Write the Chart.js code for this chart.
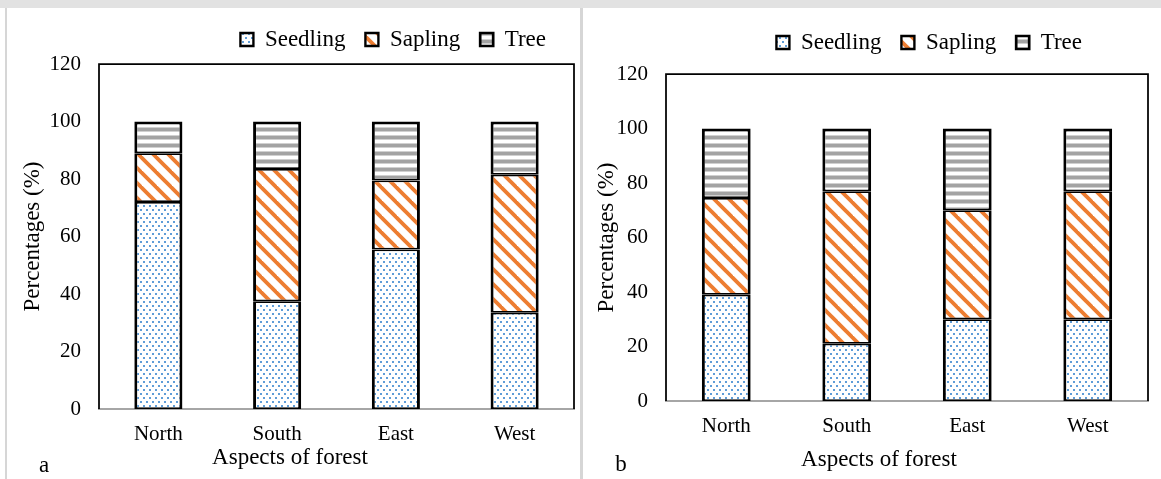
<!DOCTYPE html>
<html>
<head>
<meta charset="utf-8">
<title>Regeneration by forest aspect</title>
<script src="https://cdn.jsdelivr.net/npm/chart.js@4.4.0/dist/chart.umd.min.js"></script>
<style>
  html, body { margin: 0; padding: 0; background: #fff; }
  body { position: relative; width: 1161px; height: 479px; overflow: hidden; }
  .band { position: absolute; left: 0; top: 0; width: 1161px; height: 8px; background: #e2e2e2; }
  .rule { position: absolute; top: 8px; height: 471px; background: #d6d6d6; }
  .panel { position: absolute; top: 8px; }
  canvas { display: block; }
</style>
</head>
<body>
<div class="band"></div>
<div class="rule" style="left:5px;width:2px"></div>
<div class="rule" style="left:580px;width:3px"></div>
<div class="panel" style="left:7px"><canvas id="chartA" width="573" height="471"></canvas></div>
<div class="panel" style="left:583px"><canvas id="chartB" width="578" height="471"></canvas></div>
<script>
// Share (%) of seedlings, saplings and trees on each aspect, two sites (a, b)
const aspects = ['North', 'South', 'East', 'West'];

const seedlingA = [72, 37.5, 55.5, 33.5];
const saplingA = [17, 46, 24, 48];
const treeA = [11, 16.5, 20.5, 18.5];

const seedlingB = [39, 21, 30, 30];
const saplingB = [35.5, 56, 40, 47];
const treeB = [25.5, 23, 30, 23];

const yMax = 120;
const yStep = 20;

const serif = "'Liberation Serif', 'Times New Roman', serif";

// small repeating fills, like the Excel pattern fills
function tile(w, h, paint) {
  const c = document.createElement('canvas');
  c.width = w;
  c.height = h;
  const g = c.getContext('2d');
  paint(g);
  return g.createPattern(c, 'repeat');
}

const dots = tile(6, 8, g => {
  g.fillStyle = '#fff';
  g.fillRect(0, 0, 6, 8);
  g.fillStyle = '#5f9dd8';
  g.fillRect(1, 1, 2, 2);
  g.fillRect(4, 5, 2, 2);
});

const stripes = tile(15, 15, g => {
  g.fillStyle = '#fff';
  g.fillRect(0, 0, 15, 15);
  g.strokeStyle = '#ed7d31';
  g.lineWidth = 3.8;
  for (const d of [-15, 0, 15]) {
    g.beginPath();
    g.moveTo(d - 3, -3);
    g.lineTo(d + 18, 18);
    g.stroke();
  }
});

const bands = tile(8, 8, g => {
  g.fillStyle = '#fff';
  g.fillRect(0, 0, 8, 8);
  g.fillStyle = '#a3a3a3';
  g.fillRect(0, 0, 8, 3);
  g.fillStyle = '#d0d0d0';
  g.fillRect(0, 3, 8, 1);
  g.fillRect(0, 7, 8, 1);
});

function datasets(seedling, sapling, tree) {
  const edge = { top: 1.75, bottom: 1.75, left: 3, right: 3 };
  return [
    { label: 'Seedling', data: seedling, backgroundColor: dots, borderWidth: edge },
    { label: 'Sapling', data: sapling, backgroundColor: stripes, borderWidth: edge },
    { label: 'Tree', data: tree, backgroundColor: bands, borderWidth: { ...edge, top: 3 } }
  ].map(ds => Object.assign(ds, {
    borderColor: '#000',
    borderSkipped: false,
    barPercentage: 0.405,
    categoryPercentage: 1
  }));
}

// nudge the legend row sideways / up
const shiftLegend = {
  id: 'shiftLegend',
  afterLayout(chart, args, opts) {
    const lg = chart.legend;
    lg.left += opts.dx;
    lg.right += opts.dx;
    lg.top += opts.dy;
    lg.bottom += opts.dy;
  }
};

// black box on left, top and right of the plot
const frame = {
  id: 'frame',
  beforeDatasetsDraw(chart) {
    const { ctx, chartArea: { left, top, right, bottom } } = chart;
    ctx.save();
    ctx.strokeStyle = '#000';
    ctx.lineWidth = 1.75;
    ctx.beginPath();
    ctx.moveTo(left, bottom);
    ctx.lineTo(left, top);
    ctx.lineTo(right, top);
    ctx.lineTo(right, bottom);
    ctx.stroke();
    ctx.restore();
  }
};

// x axis caption and the panel letter
const captions = {
  id: 'captions',
  afterDraw(chart, args, opts) {
    const ctx = chart.ctx;
    ctx.save();
    ctx.fillStyle = '#000';
    ctx.font = '23px ' + serif;
    ctx.textAlign = 'center';
    ctx.textBaseline = 'alphabetic';
    ctx.fillText(opts.title, opts.titleX, opts.titleY);
    ctx.fillText(opts.letter, opts.letterX, opts.letterY);
    ctx.restore();
  }
};

function drawPanel(id, seedling, sapling, tree, look) {
  return new Chart(document.getElementById(id), {
    type: 'bar',
    data: { labels: aspects, datasets: datasets(seedling, sapling, tree) },
    options: {
      responsive: false,
      animation: false,
      devicePixelRatio: 1,
      layout: { padding: { top: look.padTop, right: look.padRight, left: 0, bottom: 0 } },
      scales: {
        x: {
          stacked: true,
          grid: { display: false, drawTicks: false },
          border: { color: '#a6a6a6', width: 2 },
          ticks: { color: '#000', font: { family: serif, size: 21 }, padding: 13 },
          afterFit: s => { s.height = look.xHeight; }
        },
        y: {
          stacked: true,
          min: 0,
          max: yMax,
          grid: { display: false, drawTicks: false },
          border: { display: false },
          ticks: { stepSize: yStep, color: '#000', font: { family: serif, size: 21 }, padding: 18 },
          title: {
            display: true,
            text: 'Percentages (%)',
            color: '#000',
            font: { family: serif, size: 23 },
            padding: { top: look.yTitlePad, bottom: 0 }
          },
          afterFit: s => { s.width = look.yWidth; }
        }
      },
      plugins: {
        legend: {
          position: 'top',
          align: 'end',
          labels: { boxWidth: 13, boxHeight: 13, padding: 20, color: '#000', font: { family: serif, size: 23 } }
        },
        tooltip: { enabled: false },
        shiftLegend: { dx: look.legendDx, dy: look.legendDy },
        captions: {
          title: 'Aspects of forest', titleX: look.titleX, titleY: look.titleY,
          letter: look.letter, letterX: look.letterX, letterY: look.letterY
        }
      }
    },
    plugins: [shiftLegend, frame, captions]
  });
}

drawPanel('chartA', seedlingA, saplingA, treeA, {
  padTop: 3, padRight: 6, xHeight: 70, yWidth: 92, yTitlePad: 12,
  legendDx: -8, legendDy: -3,
  titleX: 283, titleY: 456, letter: 'a', letterX: 37, letterY: 464
});

drawPanel('chartB', seedlingB, saplingB, treeB, {
  padTop: 13, padRight: 13, xHeight: 78, yWidth: 83, yTitlePad: 10,
  legendDx: -46, legendDy: -10,
  titleX: 296, titleY: 458, letter: 'b', letterX: 38, letterY: 463
});
</script>
</body>
</html>
